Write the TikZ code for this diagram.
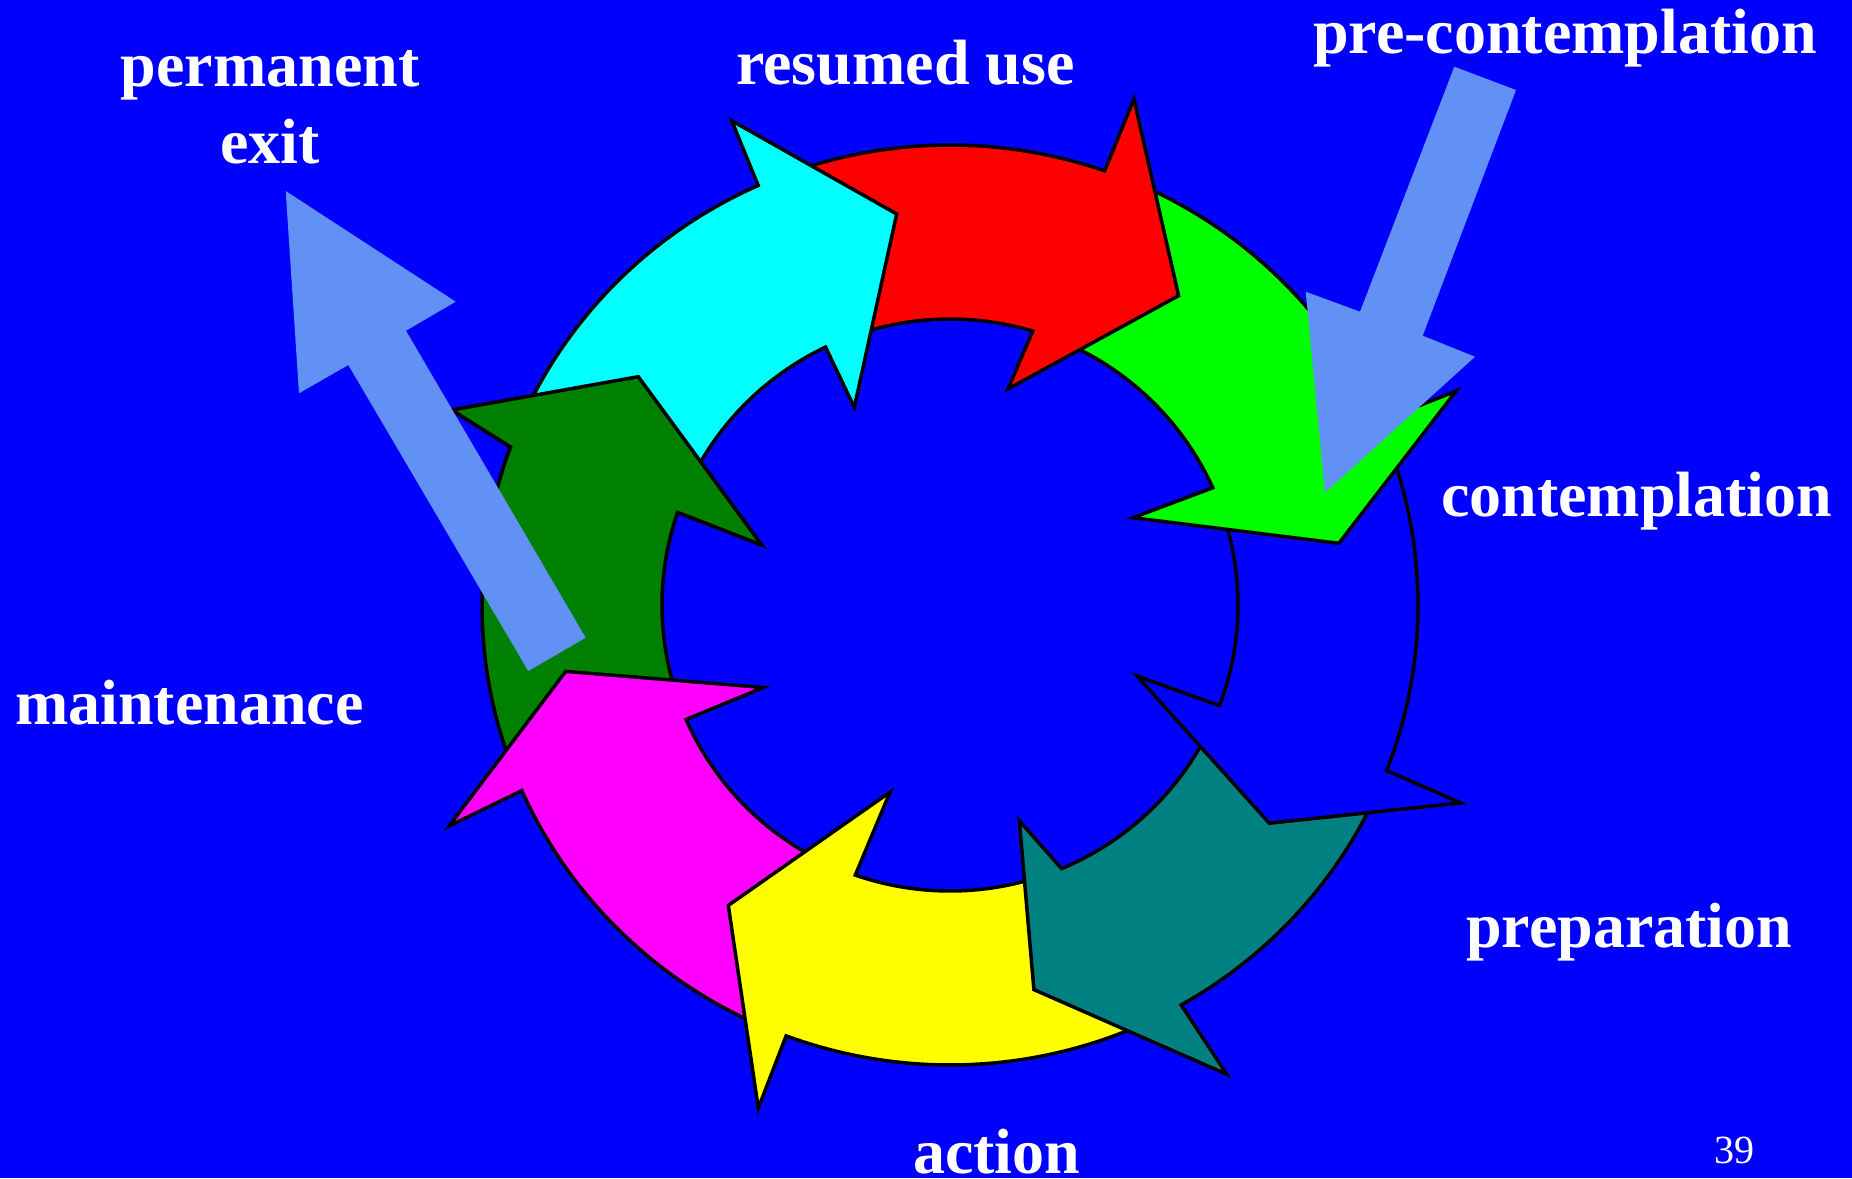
\documentclass[tikz,border=0pt]{standalone}
\usepackage{fontspec}
\setmainfont{Liberation Serif}
\usetikzlibrary{calc}
\definecolor{bgblue}{RGB}{0,0,255}
\definecolor{lightarrow}{RGB}{98,145,246}
\definecolor{tealc}{RGB}{0,128,128}
\definecolor{dkgreen}{RGB}{0,128,0}
\definecolor{cyanc}{RGB}{0,255,255}
\definecolor{magentac}{RGB}{255,0,255}
\definecolor{yellowc}{RGB}{255,255,0}
\definecolor{greenc}{RGB}{0,255,0}
\definecolor{redc}{RGB}{255,0,0}
% #1 colour, #2 outer tail angle, #3 outer end angle, #4 outer barb, #5 tip, #6 inner barb, #7 inner end angle, #8 inner tail angle
\newcommand{\ringarrow}[8]{%
  \filldraw[ringline, fill=#1]
    ($(C)+(#2:468 and 460)$) arc[start angle=#2, end angle=#3, x radius=468, y radius=460]
    -- #4 -- #5 -- #6
    -- ($(C)+(#7:288 and 286)$) arc[start angle=#7, end angle=#8, x radius=288, y radius=286]
    -- cycle;}
\begin{document}
\begin{tikzpicture}[x=1pt,y=-1pt,
  ringline/.style={draw=black,line width=3.5pt,line join=miter},
  lbl/.style={text=white,inner sep=0pt,font=\fontsize{64}{77}\selectfont\bfseries},
  straightarrow/.style={fill=lightarrow}]
\fill[bgblue] (0,0) rectangle (1852,1178);
\useasboundingbox (0,0) rectangle (1852,1178);
\coordinate (C) at (950,605);

% ring of arrows, drawn so that each head lies over the next tail
\ringarrow{dkgreen}{159.1}{200.1}{(451.7,410)}{(638.3,376.7)}{(761.7,545)}{198.9}{160.9}
\ringarrow{magentac}{113.6}{156.2}{(449,826.1)}{(565.7,671.4)}{(763.3,687.5)}{156.4}{115}
\ringarrow{yellowc}{63.9}{110.5}{(758.3,1108.2)}{(728.3,905.4)}{(890,792.1)}{109.2}{71.1}
\ringarrow{tealc}{23.9}{60.4}{(1226.8,1074.3)}{(1033.9,989.6)}{(1019.3,820.7)}{67.2}{25}
\ringarrow{bgblue}{-20.3}{21.1}{(1460.7,802.9)}{(1269.3,823.2)}{(1137.1,676.1)}{20.6}{-19.6}
\ringarrow{greenc}{292.8}{336.5}{(1456.1,391)}{(1338.9,543.3)}{(1132.9,517.7)}{335.8}{292}
\ringarrow{redc}{249.2}{289.3}{(1133.9,99)}{(1178.6,295.7)}{(1007.9,389)}{286.7}{249.2}
\ringarrow{cyanc}{203.5}{245.8}{(731.7,120.7)}{(896.7,214)}{(854.3,407.3)}{244.4}{204.6}
\begin{scope}
  \clip (400,300) rectangle (800,560);
  \ringarrow{dkgreen}{159.1}{200.1}{(451.7,410)}{(638.3,376.7)}{(761.7,545)}{198.9}{160.9}
\end{scope}

% straight arrows
\fill[straightarrow] (585.7,637.7) -- (406,330.7) -- (455.7,301.7) -- (285.7,191)
  -- (299,393.3) -- (348.3,365) -- (528.3,671) -- cycle;
\fill[straightarrow] (1454.3,66.7) -- (1516,90) -- (1422.7,335.7) -- (1475,356.7)
  -- (1325,492.7) -- (1305.7,291.7) -- (1360,311.7) -- cycle;

% labels
\node[lbl,anchor=base] (exit) at (270,86) {\begin{tabular}[t]{@{}c@{}}permanent\\exit\end{tabular}};
\node[lbl,anchor=base west] (resumed) at (736,84) {resumed use};
\node[lbl,anchor=base west] (precont) at (1313,53) {pre-contemplation};
\node[lbl,anchor=base west] (cont) at (1441,516) {contemplation};
\node[lbl,anchor=base west] (prep) at (1466,947) {preparation};
\node[lbl,anchor=base west] (maint) at (15,724) {maintenance};
\node[lbl,anchor=base west] (action) at (913,1173) {action};
\node[text=white,inner sep=0pt,anchor=base west,font=\fontsize{40}{48}\selectfont] (page) at (1714,1163) {39};
\end{tikzpicture}
\end{document}
